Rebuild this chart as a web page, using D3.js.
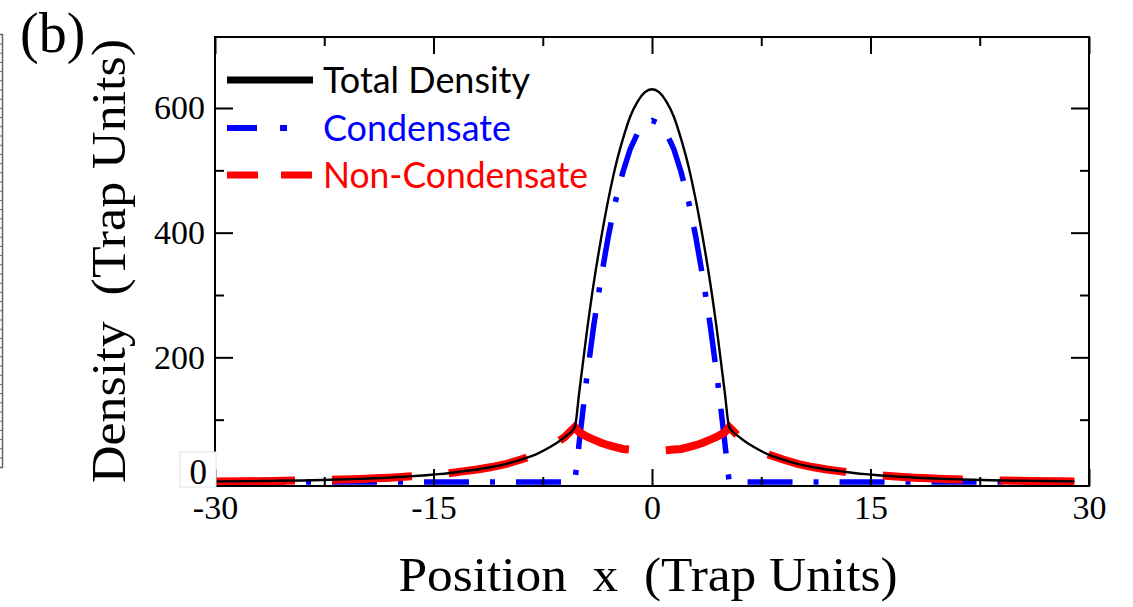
<!DOCTYPE html>
<html>
<head>
<meta charset="utf-8">
<script src="https://cdn.jsdelivr.net/npm/d3@7"></script>
<style>
  html, body { margin: 0; padding: 0; background: #fff; }
  svg { display: block; }
  text { white-space: pre; }
</style>
</head>
<body>
<svg id="chart" width="1133" height="607"></svg>
<script>
// Density profiles of a trapped gas: total, condensate and thermal cloud.
const xTotal = [-30,-28,-26,-24,-22,-20,-19,-18,-17,-16,-15,-14,-13,-12,-11,-10,-9,-8,-7,-6,-5.3,-5,-4.5,-4,-3.5,-3,-2.5,-2,-1.5,-1,-0.5,0,
                0.5,1,1.5,2,2.5,3,3.5,4,4.5,5,5.3,6,7,8,9,10,11,12,13,14,15,16,17,18,19,20,22,24,26,28,29];
const totalDensity = [1,1.2,1.8,2.5,3.5,5,6,7,8.5,10,12,14,17,20,24,29,36,44,56,72,88,143,236,319,390,453,507,550,586,610,625,630,
                625,610,586,550,507,453,390,319,236,143,88,72,56,44,36,29,24,20,17,14,12,10,8.5,7,6,5,3.5,2.5,1.8,1.2,1];

const xCond = [-30,-5.3,-5,-4.5,-4,-3.5,-3,-2.5,-2,-1.5,-1,-0.5,0,0.5,1,1.5,2,2.5,3,3.5,4,4.5,5,5.3,29];
const condensate = [0,0,63,163,251,327,394,451,497,534,559,575,580,575,559,534,497,451,394,327,251,163,63,0,0];

const xNonCond = [-30,-28,-26,-24,-22,-20,-19,-18,-17,-16,-15,-14,-13,-12,-11,-10,-9,-8,-7,-6,-5.3,-5,-4.5,-4,-3.5,-3,-2.5,-2,-1.5,-1,-0.5,0,
                  0.5,1,1.5,2,2.5,3,3.5,4,4.5,5,5.3,6,7,8,9,10,11,12,13,14,15,16,17,18,19,20,22,24,26,28,29];
const nonCondensate = [1,1.2,1.8,2.5,3.5,5,6,7,8.5,10,12,14,17,20,24,29,36,44,56,72,88,80,73,68,63,59,56,53,52,51,50,50,
                  50,51,52,53,56,59,63,68,73,80,88,72,56,44,36,29,24,20,17,14,12,10,8.5,7,6,5,3.5,2.5,1.8,1.2,1];

const xMajorTicks = [-30,-15,0,15,30];
const xMinorTicks = [-22.5,-7.5,7.5,22.5];
const yMajorTicks = [200,400,600];
const yMinorTicks = [100,300,500];
const legendLabels = ["Total Density","Condensate","Non-Condensate"];

const svg = d3.select("#chart");
const frameL = 215, frameR = 1089, frameT = 37, frameB = 486;

const x = d3.scaleLinear().domain([-30, 30]).range([frameL, frameR]);
const y = d3.scaleLinear().domain([0, 600]).range([482, 108]);

const serif = "'Liberation Serif', 'Times New Roman', serif";
const plainNumber = d => String(d);

// neighbouring panel edge on the far left
const strip = svg.append("g").attr("stroke", "#666").attr("stroke-width", 1.5);
strip.append("line").attr("x1", 2.5).attr("x2", 2.5).attr("y1", 34).attr("y2", 468);
strip.append("line").attr("x1", 0).attr("x2", 3).attr("y1", 34.5).attr("y2", 34.5);
strip.append("line").attr("x1", 0).attr("x2", 3).attr("y1", 467.5).attr("y2", 467.5);
d3.range(44, 466, 9.2).forEach(v => {
  strip.append("line").attr("x1", 0).attr("x2", 2).attr("y1", v).attr("y2", v).attr("stroke-width", 1);
});

// clip for the curves
svg.append("clipPath").attr("id", "plotClip")
  .append("rect").attr("x", frameL).attr("y", frameT).attr("width", frameR - frameL).attr("height", frameB - frameT);

const plot = svg.append("g").attr("clip-path", "url(#plotClip)");

const lineLinear = d3.line().x(d => x(d[0])).y(d => y(d[1]));
const lineSmooth = d3.line().x(d => x(d[0])).y(d => y(d[1])).curve(d3.curveMonotoneX);

plot.append("path")
  .datum(d3.zip(xCond, condensate))
  .attr("d", lineLinear)
  .attr("fill", "none").attr("stroke", "#0000ff").attr("stroke-width", 5.5)
  .attr("stroke-dasharray", "45 21 5 21").attr("stroke-dashoffset", 67);

plot.append("path")
  .datum(d3.zip(xNonCond, nonCondensate))
  .attr("d", lineLinear)
  .attr("fill", "none").attr("stroke", "#ff0000").attr("stroke-width", 8)
  .attr("stroke-dasharray", "80 37");

plot.append("path")
  .datum(d3.zip(xTotal, totalDensity))
  .attr("d", lineSmooth)
  .attr("fill", "none").attr("stroke", "#000").attr("stroke-width", 2.4);

// frame and ticks
function styleAxis(g) {
  g.select(".domain").remove();
  g.selectAll(".tick line").attr("stroke", "#000").attr("stroke-width", 2);
  g.selectAll(".tick text").attr("font-family", serif).attr("font-size", 34).attr("fill", "#000");
}

svg.append("g").attr("transform", `translate(0,${frameB})`)
  .call(d3.axisBottom(x).tickValues(xMajorTicks).tickSize(-17).tickPadding(9).tickFormat(plainNumber))
  .call(styleAxis);
svg.append("g").attr("transform", `translate(0,${frameB})`)
  .call(d3.axisBottom(x).tickValues(xMinorTicks).tickSize(-9).tickFormat(""))
  .call(styleAxis);
svg.append("g").attr("transform", `translate(0,${frameT})`)
  .call(d3.axisTop(x).tickValues(xMajorTicks).tickSize(-17).tickFormat(""))
  .call(styleAxis);
svg.append("g").attr("transform", `translate(0,${frameT})`)
  .call(d3.axisTop(x).tickValues(xMinorTicks).tickSize(-9).tickFormat(""))
  .call(styleAxis);

svg.append("g").attr("transform", `translate(${frameL},0)`)
  .call(d3.axisLeft(y).tickValues(yMajorTicks).tickSize(-18).tickPadding(10).tickFormat(plainNumber))
  .call(styleAxis);
svg.append("g").attr("transform", `translate(${frameL},0)`)
  .call(d3.axisLeft(y).tickValues(yMinorTicks).tickSize(-9).tickFormat(""))
  .call(styleAxis);
svg.append("g").attr("transform", `translate(${frameR},0)`)
  .call(d3.axisRight(y).tickValues(yMajorTicks).tickSize(-18).tickFormat(""))
  .call(styleAxis);
svg.append("g").attr("transform", `translate(${frameR},0)`)
  .call(d3.axisRight(y).tickValues(yMinorTicks).tickSize(-9).tickFormat(""))
  .call(styleAxis);

svg.append("rect")
  .attr("x", frameL).attr("y", frameT).attr("width", frameR - frameL).attr("height", frameB - frameT)
  .attr("fill", "none").attr("stroke", "#000").attr("stroke-width", 2);

// boxed zero label
svg.append("rect").attr("x", 180).attr("y", 452).attr("width", 36).attr("height", 35)
  .attr("fill", "#fff").attr("stroke", "#e2e2e2").attr("stroke-width", 1);
svg.append("text").attr("x", 207).attr("y", 484).attr("text-anchor", "end")
  .attr("font-family", serif).attr("font-size", 35).text("0");

// axis titles and panel tag
svg.append("text").attr("x", 648).attr("y", 591).attr("text-anchor", "middle")
  .attr("font-family", serif).attr("font-size", 48)
  .attr("textLength", 499).attr("lengthAdjust", "spacingAndGlyphs")
  .text("Position  x  (Trap Units)");

svg.append("text").attr("transform", "translate(125,261) rotate(-90)").attr("text-anchor", "middle")
  .attr("font-family", serif).attr("font-size", 48)
  .attr("textLength", 444).attr("lengthAdjust", "spacingAndGlyphs")
  .text("Density  (Trap Units)");

svg.append("text").attr("x", 20).attr("y", 52)
  .attr("font-family", serif).attr("font-size", 56).text("(b)");

// legend
const legendFont = "Lato, 'Open Sans', sans-serif";
const legendRows = [
  {label: legendLabels[0], color: "#000", dash: null, width: 7, y: 80, len: 207},
  {label: legendLabels[1], color: "#0000ff", dash: "30 23 7 40", width: 6, y: 128, len: 188},
  {label: legendLabels[2], color: "#ff0000", dash: "31 23 31", width: 7, y: 175, len: 265}
];
const legend = svg.append("g");
legendRows.forEach(r => {
  const ln = legend.append("line").attr("x1", 227).attr("x2", 313).attr("y1", r.y).attr("y2", r.y)
    .attr("stroke", r.color).attr("stroke-width", r.width);
  if (r.dash) ln.attr("stroke-dasharray", r.dash);
  legend.append("text").attr("x", 323).attr("y", r.y + 13)
    .attr("font-family", legendFont).attr("font-size", 36).attr("fill", r.color)
    .attr("textLength", r.len).attr("lengthAdjust", "spacingAndGlyphs")
    .text(r.label);
});
</script>
</body>
</html>
